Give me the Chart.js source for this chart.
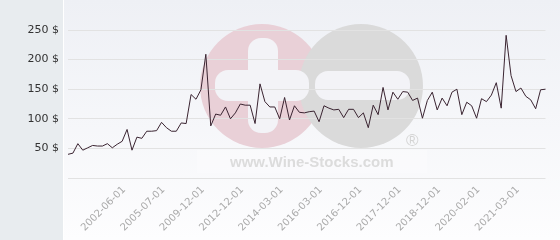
<!DOCTYPE html>
<html>
<head>
<meta charset="utf-8">
<script src="https://cdn.jsdelivr.net/npm/chart.js@4"></script>
<style>
  html, body { margin: 0; padding: 0; background: #e8ecef; }
  #wrap { width: 560px; height: 240px; position: relative; }
</style>
</head>
<body>
<div id="wrap"><canvas id="priceChart" width="560" height="240"></canvas></div>
<script>
// tick labels shown on the x axis (one every 8 points, starting at point 12)
const tickLabels = ["2002-06-01", "2005-07-01", "2009-12-01", "2012-12-01", "2014-03-01",
  "2016-03-01", "2016-12-01", "2017-12-01", "2018-12-01", "2020-02-01", "2021-03-01"];
const firstTick = 12;
const tickEvery = 8;

// price in $
const prices = [
  40, 42, 58, 47, 51, 55, 54, 54, 58, 51,
  57, 62, 82, 47, 69, 67, 79, 79, 80, 94,
  85, 79, 79, 93, 92, 141, 133, 149, 209, 88,
  108, 106, 120, 100, 110, 125, 123, 123, 92, 159,
  129, 120, 120, 100, 136, 98, 122, 111, 110, 112,
  113, 95, 122, 118, 115, 116, 102, 116, 116, 102,
  110, 85, 123, 107, 153, 115, 145, 133, 146, 145,
  131, 135, 101, 131, 145, 115, 135, 122, 145, 150,
  107, 128, 122, 101, 134, 129, 140, 161, 118, 241,
  173, 146, 152, 138, 132, 117, 149, 150
];

const yTicks = [50, 100, 150, 200, 250];

const categories = prices.map((p, i) => {
  const k = i - firstTick;
  return (k >= 0 && k % tickEvery === 0) ? (tickLabels[k / tickEvery] || "") : "";
});

// background panel, gradient and the wine-stocks watermark
const backdrop = {
  id: "backdrop",
  beforeDraw(chart) {
    const ctx = chart.ctx;
    ctx.save();
    ctx.fillStyle = "#e8ecef";
    ctx.fillRect(0, 0, 560, 240);
    ctx.fillStyle = "#ffffff";
    ctx.fillRect(63, 0, 1, 240);
    const g = ctx.createLinearGradient(0, 0, 0, 240);
    g.addColorStop(0, "#eef0f5");
    g.addColorStop(1, "#fdfdfe");
    ctx.fillStyle = g;
    ctx.fillRect(64, 0, 496, 240);

    // logo circles
    ctx.fillStyle = "#e9d0d7";
    ctx.beginPath(); ctx.arc(262, 86, 62, 0, Math.PI * 2); ctx.fill();
    ctx.fillStyle = "#dadada";
    ctx.beginPath(); ctx.arc(361, 86, 62, 0, Math.PI * 2); ctx.fill();

    const bar = (x, y, w, h, r) => {
      ctx.beginPath();
      ctx.roundRect(x, y, w, h, r);
      ctx.fill();
    };
    ctx.fillStyle = "#f3f3f7";
    bar(248, 38, 30, 95, 13);   // plus vertical
    bar(215, 70, 94, 31, 13);   // plus horizontal
    bar(315, 71, 95, 29, 13);   // minus

    ctx.fillStyle = "rgba(255,255,255,0.25)";
    ctx.fillRect(197, 150, 230, 23);
    ctx.fillStyle = "#dcdcdc";
    ctx.font = "bold 15px 'Liberation Sans', Arial, sans-serif";
    ctx.textBaseline = "alphabetic";
    ctx.fillText("www.Wine-Stocks.com", 230, 167);
    ctx.font = "17px 'Liberation Sans', Arial, sans-serif";
    ctx.fillStyle = "#d4d4d4";
    ctx.fillText("\u00AE", 406, 146);
    ctx.restore();
  }
};

new Chart(document.getElementById("priceChart"), {
  type: "line",
  data: {
    labels: categories,
    datasets: [{
      data: prices,
      borderColor: "#3a2431",
      borderWidth: 1,
      pointRadius: 0,
      tension: 0,
      fill: false
    }]
  },
  options: {
    responsive: false,
    animation: false,
    layout: { padding: { top: 30, right: 6, left: 0, bottom: 0 } },
    plugins: { legend: { display: false }, tooltip: { enabled: false } },
    scales: {
      x: {
        type: "category",
        offset: false,
        grid: { display: false, drawTicks: false },
        border: { display: false },
        afterFit(scale) { scale.height = 62; },
        ticks: {
          autoSkip: false,
          minRotation: 45,
          maxRotation: 45,
          padding: 6,
          labelOffset: -3,
          color: "#aaaaaa",
          font: { family: "'DejaVu Sans'", size: 10 },
          callback(v, i) { return categories[i]; }
        }
      },
      y: {
        min: 0,
        max: 250,
        afterFit(scale) { scale.width = 68; },
        afterBuildTicks(scale) { scale.ticks = [0].concat(yTicks).map(v => ({ value: v })); },
        grid: { color: "#e2e2e2", drawTicks: false },
        border: { display: false },
        ticks: {
          padding: 9,
          color: "#333333",
          font: { family: "'DejaVu Sans'", size: 11 },
          callback(v) { return v === 0 ? "" : v + " $"; }
        }
      }
    }
  },
  plugins: [backdrop]
});
</script>
</body>
</html>
